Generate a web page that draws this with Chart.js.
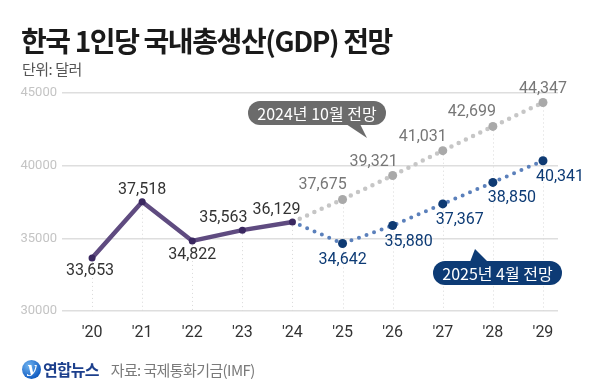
<!DOCTYPE html>
<html>
<head>
<meta charset="utf-8">
<script src="https://cdn.jsdelivr.net/npm/chart.js@4.4.1/dist/chart.umd.min.js"></script>
<style>
    html, body { margin: 0; padding: 0; background: #fff; }
    #wrap { position: relative; width: 600px; height: 386px; overflow: hidden; font-family: "Noto Sans CJK KR", "Noto Sans", sans-serif; }
    #gdpChart { position: absolute; left: 0; top: 0; }
    .title { position: absolute; left: 21px; top: 20px; font-size: 28px; font-weight: 700; color: #1a1a1a; letter-spacing: -1.4px; white-space: nowrap; }
    .unit { position: absolute; left: 22px; top: 58px; font-size: 15px; color: #555; letter-spacing: -0.5px; }
    .footer { position: absolute; left: 22px; top: 358px; height: 22px; display: flex; align-items: center; white-space: nowrap; }
    .logo { width: 19px; height: 19px; border-radius: 50%; background: radial-gradient(circle at 35% 30%, #6fb3f0, #1560c4 70%, #0b3f8f); color: #fff; font: italic 700 15px "DejaVu Serif", serif; text-align: center; line-height: 17px; }
    .brand { margin-left: 2px; font-size: 16px; font-weight: 700; color: #1c3f8c; letter-spacing: -0.8px; }
    .source { margin-left: 12px; font-size: 15px; color: #7a7a7a; letter-spacing: -0.6px; }
</style>
</head>
<body>
<div id="wrap">
    <canvas id="gdpChart" width="600" height="386"></canvas>
    <div class="title">한국 1인당 국내총생산(GDP) 전망</div>
    <div class="unit">단위: 달러</div>
    <div class="footer">
        <div class="logo">y</div>
        <div class="brand">연합뉴스</div>
        <div class="source">자료: 국제통화기금(IMF)</div>
    </div>
</div>
<script>
// 데이터
var years = ["'20", "'21", "'22", "'23", "'24", "'25", "'26", "'27", "'28", "'29"];
var actual = [33653, 37518, 34822, 35563, 36129, null, null, null, null, null];
var forecastOct2024 = [null, null, null, null, 36129, 37675, 39321, 41031, 42699, 44347];
var forecastApr2025 = [null, null, null, null, 36129, 34642, 35880, 37367, 38850, 40341];
var yTicks = [30000, 35000, 40000, 45000];

function toPoints(arr) {
    return arr.map(function (v, i) { return { x: i, y: v }; });
}

// 라벨 위치 (점 기준 오프셋)
var labelOffsets = {
    actual: [[-2, 13], [0, -12], [0, 14], [-19, -12], [-16, -12]],
    oct: [null, null, null, null, null, [-20, -14], [-19, -14], [-20, -14], [-21, -14], [0, -13]],
    apr: [null, null, null, null, null, [0, 16], [16, 16], [17, 16], [19, 16], [17, 16]]
};

function fmt(v) {
    return v.toString().replace(/\B(?=(\d{3})+(?!\d))/g, ',');
}

// 세로 점선
var dropLines = {
    id: 'dropLines',
    beforeDatasetsDraw: function (chart) {
        var ctx = chart.ctx;
        var xs = chart.scales.x, ys = chart.scales.y;
        ctx.save();
        ctx.strokeStyle = '#d9d9d9';
        ctx.lineWidth = 1;
        ctx.setLineDash([1, 3]);
        for (var i = 0; i < years.length; i++) {
            var top = Infinity;
            [actual, forecastOct2024, forecastApr2025].forEach(function (arr) {
                if (arr[i] != null) top = Math.min(top, ys.getPixelForValue(arr[i]));
            });
            var x = Math.round(xs.getPixelForValue(i)) + 0.5;
            ctx.beginPath();
            ctx.moveTo(x, top);
            ctx.lineTo(x, chart.chartArea.bottom);
            ctx.stroke();
        }
        ctx.restore();
    }
};

// 값 라벨 + 말풍선
function bubble(ctx, x, y, w, h, tail, color, text) {
    var r = h / 2;
    ctx.fillStyle = color;
    ctx.beginPath();
    ctx.moveTo(x + r, y);
    ctx.lineTo(x + w - r, y);
    ctx.arc(x + w - r, y + r, r, -Math.PI / 2, Math.PI / 2);
    ctx.lineTo(x + r, y + h);
    ctx.arc(x + r, y + r, r, Math.PI / 2, Math.PI * 1.5);
    ctx.closePath();
    ctx.fill();
    ctx.beginPath();
    ctx.moveTo(tail[0], tail[1]);
    ctx.lineTo(tail[2], tail[3]);
    ctx.lineTo(tail[4], tail[5]);
    ctx.closePath();
    ctx.fill();
    ctx.fillStyle = '#fff';
    ctx.font = '16px "Noto Sans CJK KR"';
    ctx.textAlign = 'center';
    ctx.textBaseline = 'middle';
    ctx.fillText(text, x + w / 2, y + h / 2 + 1);
}

var valueLabels = {
    id: 'valueLabels',
    afterDatasetsDraw: function (chart) {
        var ctx = chart.ctx;
        ctx.save();
        ctx.textAlign = 'center';
        ctx.textBaseline = 'middle';
        ctx.font = '16px Roboto';
        chart.data.datasets.forEach(function (ds, di) {
            var meta = chart.getDatasetMeta(di);
            var offs = labelOffsets[ds.key];
            ctx.fillStyle = ds.labelColor;
            meta.data.forEach(function (pt, i) {
                var off = offs[i];
                var v = ds.data[i].y;
                if (!off || v == null) return;
                ctx.fillText(fmt(v), pt.x + off[0], pt.y + off[1]);
            });
        });
        bubble(ctx, 248, 101, 138, 24, [346, 124, 360, 124, 367, 138], '#6b6b6b', '2024년 10월 전망');
        bubble(ctx, 433, 261, 129, 24, [470, 262, 488, 262, 475, 249], '#0d3b75', '2025년 4월 전망');
        ctx.restore();
    }
};

var ctx = document.getElementById('gdpChart').getContext('2d');
var gdpChart = new Chart(ctx, {
    type: 'line',
    data: {
        datasets: [{
            key: 'oct',
            data: toPoints(forecastOct2024),
            borderColor: '#c6c6c6',
            borderWidth: 4.5,
            borderDash: [0, 8],
            borderCapStyle: 'round',
            pointRadius: [0, 0, 0, 0, 0, 4.5, 4.5, 4.5, 4.5, 4.5],
            pointBackgroundColor: '#a9a9a9',
            pointBorderWidth: 0,
            labelColor: '#777',
            order: 3
        }, {
            key: 'apr',
            data: toPoints(forecastApr2025),
            borderColor: '#5b80bb',
            borderWidth: 4,
            borderDash: [0, 8],
            borderCapStyle: 'round',
            pointRadius: [0, 0, 0, 0, 0, 4.5, 4.5, 4.5, 4.5, 4.5],
            pointBackgroundColor: '#0e3a73',
            pointBorderWidth: 0,
            labelColor: '#0d3b75',
            order: 2
        }, {
            key: 'actual',
            data: toPoints(actual),
            borderColor: '#5f4b80',
            borderWidth: 4.5,
            borderCapStyle: 'round',
            pointRadius: 3.5,
            pointBackgroundColor: '#3a2860',
            pointBorderWidth: 0,
            labelColor: '#333',
            order: 1
        }]
    },
    options: {
        responsive: false,
        animation: false,
        spanGaps: false,
        layout: { padding: { top: 93, left: 0, right: 42, bottom: 35 } },
        plugins: { legend: { display: false }, tooltip: { enabled: false } },
        scales: {
            x: {
                type: 'linear',
                min: -0.6,
                max: 9.3,
                afterBuildTicks: function (scale) {
                    scale.ticks = years.map(function (y, i) { return { value: i }; });
                },
                afterFit: function (scale) { scale.height = 40; },
                grid: { display: false, drawTicks: false },
                border: { display: false },
                ticks: {
                    padding: 12,
                    color: '#333',
                    font: { family: 'Roboto', size: 16 },
                    callback: function (v) { return years[v]; }
                }
            },
            y: {
                min: 30000,
                max: 45000,
                afterBuildTicks: function (scale) {
                    scale.ticks = yTicks.map(function (v) { return { value: v }; });
                },
                afterFit: function (scale) { scale.width = 62; },
                grid: { color: '#dedede', lineWidth: 1.5, drawTicks: false },
                border: { display: false },
                ticks: {
                    padding: 5,
                    color: '#c4c4c4',
                    font: { family: 'Roboto', size: 13 },
                    callback: function (v) { return String(v); }
                }
            }
        }
    },
    plugins: [dropLines, valueLabels]
});
</script>
</body>
</html>
